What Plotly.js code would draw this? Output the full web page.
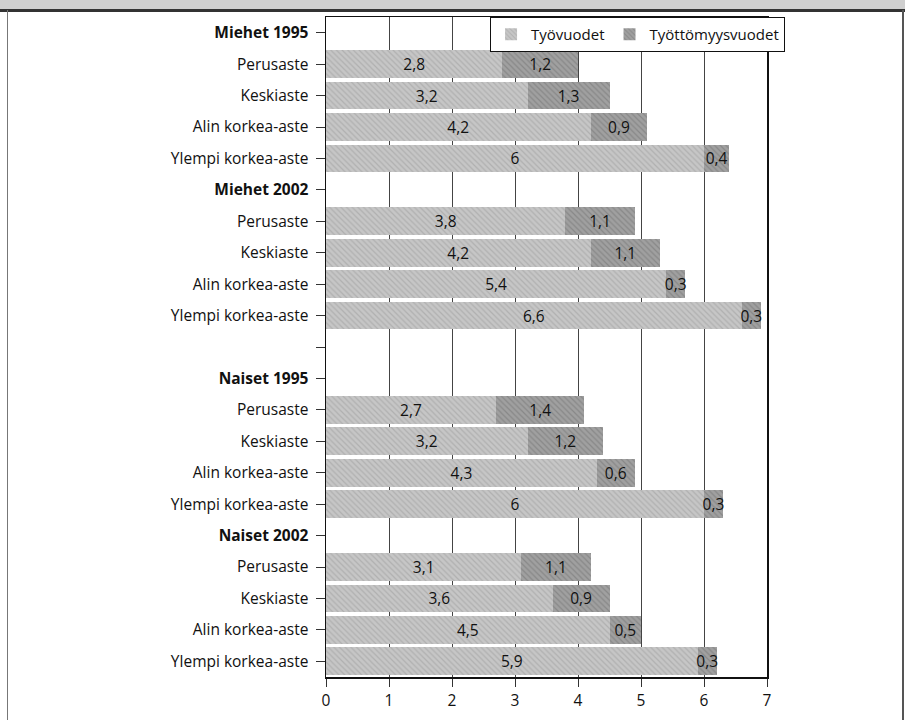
<!DOCTYPE html>
<html><head><meta charset="utf-8">
<script src="https://cdn.plot.ly/plotly-3.0.1.min.js"></script>
<style>
body{margin:0;background:#fff;}
#wrap{position:relative;width:905px;height:720px;overflow:hidden;}
#chart{position:absolute;left:0;top:0;width:905px;height:720px;}
#band{position:absolute;left:0;top:0;width:905px;height:9px;background:#cfcfcf;border-bottom:3px solid #333;}
#lb{position:absolute;left:7px;top:10px;width:1px;height:710px;background:#777;}
#rb{position:absolute;left:902px;top:10px;width:2px;height:710px;background:#555;}
</style></head>
<body><div id="wrap"><div id="chart"></div><div id="band"></div><div id="lb"></div><div id="rb"></div></div>
<script>
const categories = ["<b>Miehet 1995</b>","Perusaste","Keskiaste","Alin korkea-aste","Ylempi korkea-aste",
  "<b>Miehet 2002</b>","Perusaste","Keskiaste","Alin korkea-aste","Ylempi korkea-aste",
  "",
  "<b>Naiset 1995</b>","Perusaste","Keskiaste","Alin korkea-aste","Ylempi korkea-aste",
  "<b>Naiset 2002</b>","Perusaste","Keskiaste","Alin korkea-aste","Ylempi korkea-aste"];
const tyovuodet = [null,2.8,3.2,4.2,6, null,3.8,4.2,5.4,6.6, null, null,2.7,3.2,4.3,6, null,3.1,3.6,4.5,5.9];
const tyottomyysvuodet = [null,1.2,1.3,0.9,0.4, null,1.1,1.1,0.3,0.3, null, null,1.4,1.2,0.6,0.3, null,1.1,0.9,0.5,0.3];
const seriesNames = ["Työvuodet","Työttömyysvuodet"];

const pos = categories.map((c,i)=>i);
const fmt = v => v==null ? "" : String(v).replace(".", ",");
const font = "Open Sans, Noto Sans, sans-serif";
const fs = 15.5;

const traces = [
  {type:"bar", orientation:"h", name:seriesNames[0], y:pos, x:tyovuodet,
   text:tyovuodet.map(fmt), textposition:"inside", insidetextanchor:"middle", constraintext:"none", textangle:0,
   textfont:{family:font,size:fs,color:"#111"},
   marker:{color:"#c2c2c2", line:{width:0}, pattern:{shape:"\\", fgcolor:"#b0b0b0", bgcolor:"#c6c6c6", size:4, solidity:0.3}},
   hoverinfo:"x"},
  {type:"bar", orientation:"h", name:seriesNames[1], y:pos, x:tyottomyysvuodet,
   text:tyottomyysvuodet.map(fmt), textposition:"inside", insidetextanchor:"middle", constraintext:"none", textangle:0,
   textfont:{family:font,size:fs,color:"#111"},
   marker:{color:"#9a9a9a", line:{width:0}, pattern:{shape:"\\", fgcolor:"#888", bgcolor:"#a0a0a0", size:4, solidity:0.3}},
   hoverinfo:"x"}
];

const layout = {
  width:905, height:720,
  margin:{l:326, r:138, t:17, b:43},
  barmode:"stack", bargap:0.12,
  paper_bgcolor:"#fff", plot_bgcolor:"#fff",
  separators:", ",
  font:{family:font, size:fs, color:"#111"},
  showlegend:true,
  legend:{orientation:"h", x:0.372, xanchor:"left", y:1, yanchor:"top",
    bgcolor:"#fff", bordercolor:"#111", borderwidth:1,
    font:{family:font,size:15,color:"#111"}, itemwidth:30, tracegroupgap:0,
    traceorder:"normal"},
  xaxis:{range:[0,7], dtick:1, tick0:0, showgrid:true, gridcolor:"#444", gridwidth:1,
    showline:true, linecolor:"#111", linewidth:1.5, mirror:true,
    ticks:"outside", ticklen:8, tickcolor:"#333", zeroline:false, ticklabelstandoff:1,
    tickfont:{family:font,size:fs,color:"#111"}},
  yaxis:{range:[20.5,-0.5], tickmode:"array", tickvals:pos, ticktext:categories,
    showgrid:false, showline:true, linecolor:"#111", linewidth:1.5, mirror:true,
    ticks:"outside", ticklen:9, tickcolor:"#333", zeroline:false, ticklabelstandoff:4,
    tickfont:{family:font,size:fs,color:"#111"}}
};

Plotly.newPlot("chart", traces, layout, {displayModeBar:false, staticPlot:true});
</script></body></html>
